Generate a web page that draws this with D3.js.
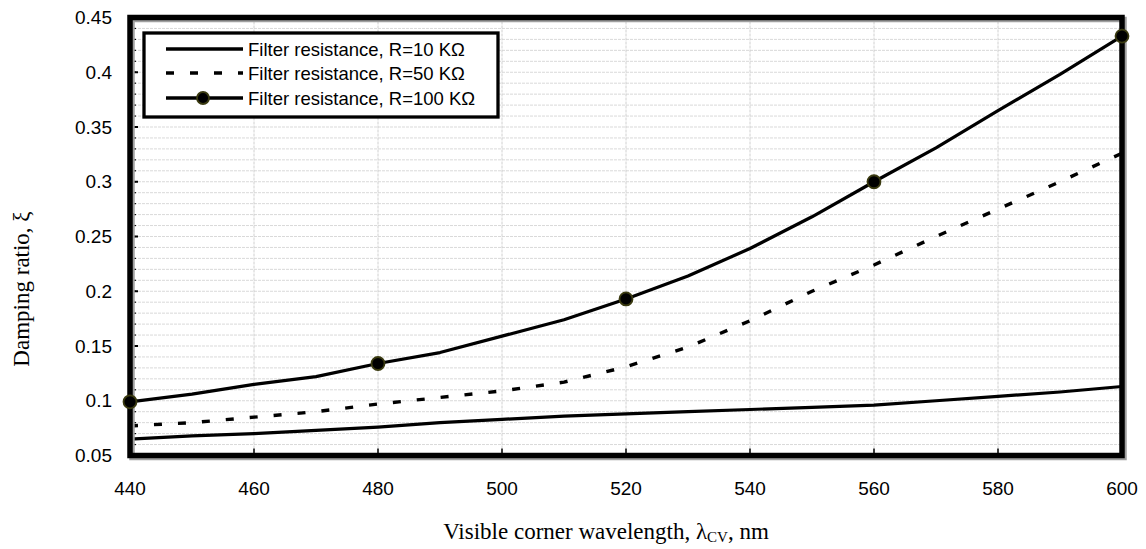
<!DOCTYPE html>
<html>
<head>
<meta charset="utf-8">
<script src="https://cdn.jsdelivr.net/npm/d3@7"></script>
<style>
  html, body { margin: 0; padding: 0; background: #fff; }
  svg { display: block; }
</style>
</head>
<body>
<svg id="chart" width="1146" height="549"></svg>
<script>
// Wavelength samples (nm)
const wavelengths = [440, 450, 460, 470, 480, 490, 500, 510, 520, 530, 540, 550, 560, 570, 580, 590, 600];

// Damping ratio for each filter resistance
const r10 = [0.065, 0.068, 0.070, 0.073, 0.076, 0.080, 0.083, 0.086, 0.088, 0.090, 0.092, 0.094, 0.096, 0.100, 0.104, 0.108, 0.113];
const r50 = [0.077, 0.080, 0.085, 0.090, 0.097, 0.103, 0.109, 0.117, 0.131, 0.149, 0.173, 0.200, 0.224, 0.250, 0.275, 0.300, 0.326];
const r100 = [0.099, 0.106, 0.115, 0.122, 0.134, 0.144, 0.159, 0.174, 0.193, 0.214, 0.239, 0.268, 0.300, 0.331, 0.365, 0.398, 0.433];

// Wavelengths carrying a marker on the 100 kΩ curve
const markerWavelengths = [440, 480, 520, 560, 600];

const xTicks = [440, 460, 480, 500, 520, 540, 560, 580, 600];
const yTicks = [0.05, 0.1, 0.15, 0.2, 0.25, 0.3, 0.35, 0.4, 0.45];
const yTickLabels = ["0.05", "0.1", "0.15", "0.2", "0.25", "0.3", "0.35", "0.4", "0.45"];

const legendLabels = [
  "Filter resistance, R=10 K\u03A9",
  "Filter resistance, R=50 K\u03A9",
  "Filter resistance, R=100 K\u03A9"
];

const svg = d3.select("#chart");
const plotL = 130, plotR = 1122, plotT = 17.5, plotB = 455.5;

const x = d3.scaleLinear().domain([440, 600]).range([plotL, plotR]);
const y = d3.scaleLinear().domain([0.05, 0.45]).range([plotB, plotT]);

// Minor horizontal grid every 0.01
const minorY = d3.range(6, 45).map(d => d / 100);
svg.append("g").selectAll("line").data(minorY).join("line")
  .attr("x1", plotL).attr("x2", plotR)
  .attr("y1", d => y(d)).attr("y2", d => y(d))
  .attr("stroke", "#d9d9d9").attr("stroke-width", 1)
  .attr("stroke-dasharray", "3 1");

// Vertical grid at major wavelengths
svg.append("g").selectAll("line").data(xTicks.slice(1, -1)).join("line")
  .attr("x1", d => x(d)).attr("x2", d => x(d))
  .attr("y1", plotT).attr("y2", plotB)
  .attr("stroke", "#d0d0d0").attr("stroke-width", 1)
  .attr("stroke-dasharray", "3 1");

// Inward ticks on the left edge
svg.append("g").selectAll("line").data(minorY).join("line")
  .attr("x1", plotL).attr("x2", plotL + 6)
  .attr("y1", d => y(d)).attr("y2", d => y(d))
  .attr("stroke", "#000").attr("stroke-width", 1.2);
svg.append("g").selectAll("line").data(yTicks).join("line")
  .attr("x1", plotL).attr("x2", plotL + 8)
  .attr("y1", d => y(d)).attr("y2", d => y(d))
  .attr("stroke", "#000").attr("stroke-width", 2);
// Inward ticks on the bottom edge
svg.append("g").selectAll("line").data(xTicks).join("line")
  .attr("x1", d => x(d)).attr("x2", d => x(d))
  .attr("y1", plotB).attr("y2", plotB - 7)
  .attr("stroke", "#000").attr("stroke-width", 1.5);

// Series lines
const line = d3.line().x((d, i) => x(wavelengths[i])).y(d => y(d));

svg.append("path").datum(r10).attr("d", line)
  .attr("fill", "none").attr("stroke", "#000").attr("stroke-width", 3.2)
  .attr("stroke-linejoin", "round");
svg.append("path").datum(r50).attr("d", line)
  .attr("fill", "none").attr("stroke", "#000").attr("stroke-width", 3.4)
  .attr("stroke-dasharray", "8 16");
svg.append("path").datum(r100).attr("d", line)
  .attr("fill", "none").attr("stroke", "#000").attr("stroke-width", 3.2)
  .attr("stroke-linejoin", "round");

// Frame shadow and frame
svg.append("rect")
  .attr("x", plotL + 2).attr("y", plotT + 2)
  .attr("width", plotR - plotL).attr("height", plotB - plotT)
  .attr("fill", "none").attr("stroke", "#a0a0a0").attr("stroke-width", 5.5);
svg.append("rect")
  .attr("x", plotL).attr("y", plotT)
  .attr("width", plotR - plotL).attr("height", plotB - plotT)
  .attr("fill", "none").attr("stroke", "#000").attr("stroke-width", 5.5);

// Markers on the 100 kΩ curve
svg.append("g").selectAll("circle").data(markerWavelengths).join("circle")
  .attr("cx", d => x(d))
  .attr("cy", d => y(r100[wavelengths.indexOf(d)]))
  .attr("r", 6.5)
  .attr("fill", "#000").attr("stroke", "#3a3a10").attr("stroke-width", 1.8);

// Tick labels
const tickFont = "'Liberation Sans', Arial, sans-serif";
svg.append("g").selectAll("text").data(yTicks).join("text")
  .attr("x", 112).attr("y", d => y(d) + 6.5)
  .attr("text-anchor", "end")
  .attr("font-family", tickFont).attr("font-size", 19)
  .text((d, i) => yTickLabels[i]);
svg.append("g").selectAll("text").data(xTicks).join("text")
  .attr("x", d => x(d)).attr("y", 495)
  .attr("text-anchor", "middle")
  .attr("font-family", tickFont).attr("font-size", 19)
  .text(d => d);

// Axis titles
const titleFont = "'Liberation Serif', 'Times New Roman', serif";
const xt = svg.append("text")
  .attr("x", 606).attr("y", 539)
  .attr("text-anchor", "middle")
  .attr("font-family", titleFont).attr("font-size", 23);
xt.append("tspan").text("Visible corner wavelength, \u03BB");
xt.append("tspan").attr("font-size", 15).attr("dy", 3).text("CV");
xt.append("tspan").attr("dy", -3).text(", nm");

svg.append("text")
  .attr("transform", "translate(29," + 289 + ") rotate(-90)")
  .attr("text-anchor", "middle")
  .attr("font-family", titleFont).attr("font-size", 23)
  .text("Damping ratio, \u03BE");

// Legend
const lg = svg.append("g");
lg.append("rect")
  .attr("x", 144).attr("y", 33).attr("width", 354).attr("height", 84)
  .attr("fill", "#fff").attr("stroke", "#000").attr("stroke-width", 3.3);
const rowsY = [49, 73, 98];
const dashes = [null, "8 16", null];
legendLabels.forEach((lab, i) => {
  lg.append("line")
    .attr("x1", 166).attr("x2", 243)
    .attr("y1", rowsY[i]).attr("y2", rowsY[i])
    .attr("stroke", "#000").attr("stroke-width", 3.4)
    .attr("stroke-dasharray", dashes[i]);
  lg.append("text")
    .attr("x", 248).attr("y", rowsY[i] + 6.5)
    .attr("font-family", tickFont).attr("font-size", 18.5)
    .text(lab);
});
lg.append("circle")
  .attr("cx", 203).attr("cy", rowsY[2]).attr("r", 6)
  .attr("fill", "#000").attr("stroke", "#3a3a10").attr("stroke-width", 1.8);
</script>
</body>
</html>
